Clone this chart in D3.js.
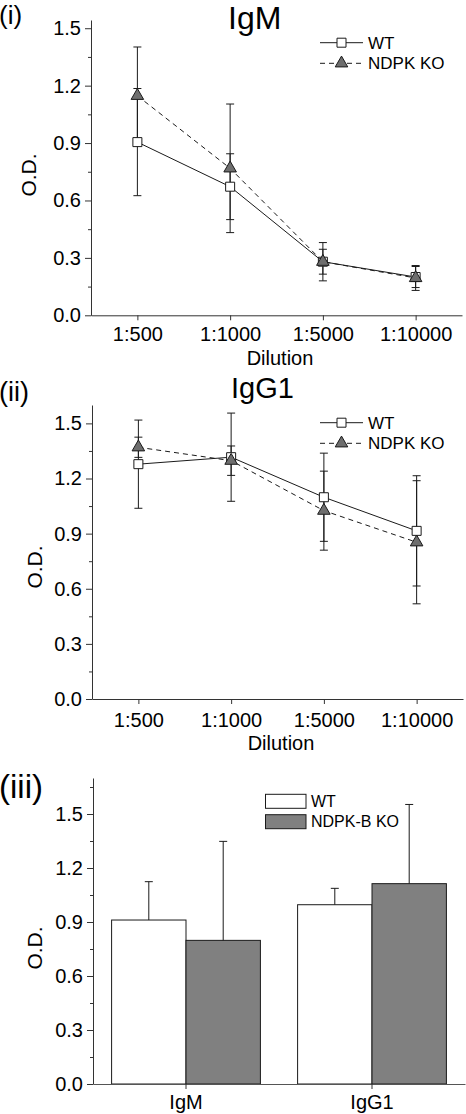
<!DOCTYPE html>
<html>
<head>
<meta charset="utf-8">
<script src="https://cdn.jsdelivr.net/npm/d3@7"></script>
<style>
  html, body { margin: 0; padding: 0; background: #fff; }
  svg { display: block; font-family: "Liberation Sans", Arial, sans-serif; }
</style>
</head>
<body>
<svg id="chart" width="466" height="1114"></svg>
<script>
// ---------- data ----------
const dilutions = ["1:500", "1:1000", "1:5000", "1:10000"];

const igmWT     = [0.905, 0.672, 0.280, 0.200];
const igmWTErr  = [0.280, 0.172, 0.065, 0.055];
const igmKO     = [1.147, 0.768, 0.280, 0.195];
const igmKOErr  = [0.255, 0.336, 0.100, 0.065];

const igg1WT    = [1.278, 1.316, 1.098, 0.915];
const igg1WTErr = [0.240, 0.240, 0.240, 0.300];
const igg1KO    = [1.370, 1.297, 1.025, 0.853];
const igg1KOErr = [0.055, 0.080, 0.215, 0.335];

const barCategories = ["IgM", "IgG1"];
const barSeries = ["WT", "NDPK-B KO"];
const barWT     = [0.911, 0.996];
const barWTErr  = [0.213, 0.091];
const barKO     = [0.798, 1.113];
const barKOErr  = [0.550, 0.440];

const yMajorTicks = [0, 0.3, 0.6, 0.9, 1.2, 1.5];
const yMinorTicks = [0.15, 0.45, 0.75, 1.05, 1.35, 1.65];

const lineLegend = ["WT", "NDPK KO"];

// ---------- helpers ----------
const svg = d3.select("#chart");
const fmt = d3.format(".1f");
const INK = "#1a1a1a";
const AXIS = "#333";

function yAxes(g, y, x0) {
  const [lo, hi] = y.domain();
  const ax = g.append("g").attr("transform", `translate(${x0},0)`)
    .call(d3.axisLeft(y).tickValues(yMajorTicks).tickFormat(fmt).tickSize(6).tickPadding(4).tickSizeOuter(0));
  ax.select(".domain").attr("stroke", AXIS);
  ax.selectAll(".tick line").attr("stroke", AXIS);
  ax.selectAll(".tick text").attr("fill", "#000").style("font-size", "20px");
  const mi = g.append("g").attr("transform", `translate(${x0},0)`)
    .call(d3.axisLeft(y).tickValues(yMinorTicks.filter(v => v < hi)).tickFormat("").tickSize(3).tickSizeOuter(0));
  mi.select(".domain").remove();
  mi.selectAll(".tick line").attr("stroke", AXIS);
}

function linePanel(cfg) {
  const g = svg.append("g");
  const x = d3.scalePoint().domain(dilutions).range([cfg.xl, cfg.xr]).padding(0.5);
  const y = d3.scaleLinear().domain([0, cfg.ymax]).range([cfg.y0, cfg.ytop]);

  // axes
  const xa = g.append("g").attr("transform", `translate(0,${cfg.y0})`)
    .call(d3.axisBottom(x).tickSize(5).tickPadding(cfg.xPad).tickSizeOuter(0));
  xa.select(".domain").attr("stroke", AXIS);
  xa.selectAll(".tick line").attr("stroke", AXIS);
  xa.selectAll(".tick text").attr("fill", "#000").style("font-size", "20px");
  yAxes(g, y, cfg.xl);

  // labels
  g.append("text").attr("x", cfg.xl + 189).attr("y", cfg.dilY).attr("text-anchor", "middle")
    .style("font-size", "20px").text("Dilution");
  g.append("text").attr("transform", `translate(${cfg.odX},${cfg.odY}) rotate(-90)`)
    .attr("text-anchor", "middle").style("font-size", "21px").text("O.D.");
  g.append("text").attr("x", cfg.titleX).attr("y", cfg.titleY)
    .style("font-size", cfg.titleSize + "px").text(cfg.title);
  g.append("text").attr("x", -1).attr("y", cfg.tagY)
    .style("font-size", cfg.tagSize + "px").text(cfg.tag);

  const series = [
    { vals: cfg.wt, errs: cfg.wtErr, dash: null, sym: d3.symbolSquare, size: 81, fill: "#fff" },
    { vals: cfg.ko, errs: cfg.koErr, dash: "5,4", sym: d3.symbolTriangle, size: 68, fill: "#6e6e6e" }
  ];

  // error bars
  series.forEach(s => {
    const eb = g.append("g").attr("stroke", INK).attr("stroke-width", 1);
    s.vals.forEach((v, i) => {
      const cx = x(dilutions[i]);
      const top = y(v + s.errs[i]), bot = y(v - s.errs[i]);
      eb.append("line").attr("x1", cx).attr("x2", cx).attr("y1", top).attr("y2", bot);
      eb.append("line").attr("x1", cx - 4).attr("x2", cx + 4).attr("y1", top).attr("y2", top);
      eb.append("line").attr("x1", cx - 4).attr("x2", cx + 4).attr("y1", bot).attr("y2", bot);
    });
  });

  // lines + markers
  series.forEach(s => {
    const line = d3.line().x((d, i) => x(dilutions[i])).y(d => y(d));
    g.append("path").datum(s.vals).attr("d", line).attr("fill", "none")
      .attr("stroke", INK).attr("stroke-width", 1).attr("stroke-dasharray", s.dash);
    g.selectAll(null).data(s.vals).enter().append("path")
      .attr("d", d3.symbol().type(s.sym).size(s.size))
      .attr("transform", (d, i) => `translate(${x(dilutions[i])},${y(d)})`)
      .attr("fill", s.fill).attr("stroke", INK).attr("stroke-width", 1);
  });

  // legend
  series.forEach((s, k) => {
    const ly = cfg.legY + k * 20.6;
    g.append("line").attr("x1", 320).attr("x2", 363).attr("y1", ly).attr("y2", ly)
      .attr("stroke", INK).attr("stroke-width", 1).attr("stroke-dasharray", s.dash);
    g.append("path").attr("d", d3.symbol().type(s.sym).size(s.size))
      .attr("transform", `translate(341.5,${ly})`).attr("fill", s.fill).attr("stroke", INK);
    g.append("text").attr("x", 368).attr("y", ly).attr("dy", "0.35em")
      .style("font-size", "17px").text(lineLegend[k]);
  });
}

// ---------- panel (i) IgM ----------
linePanel({
  xl: 91, xr: 462, y0: 315.3, ytop: 20, ymax: 1.543, xPad: 7,
  dilY: 365, odX: 36, odY: 175,
  title: "IgM", titleX: 228, titleY: 29, titleSize: 32,
  tag: "(i)", tagY: 24, tagSize: 26,
  wt: igmWT, wtErr: igmWTErr, ko: igmKO, koErr: igmKOErr, legY: 42.7
});

// ---------- panel (ii) IgG1 ----------
linePanel({
  xl: 92, xr: 463, y0: 699, ytop: 405, ymax: 1.6, xPad: 8.5,
  dilY: 750, odX: 42, odY: 567,
  title: "IgG1", titleX: 231, titleY: 398, titleSize: 29,
  tag: "(ii)", tagY: 401, tagSize: 27,
  wt: igg1WT, wtErr: igg1WTErr, ko: igg1KO, koErr: igg1KOErr, legY: 422.7
});

// ---------- panel (iii) bars ----------
(function () {
  const g = svg.append("g");
  const xl = 93, xr = 465, y0 = 1084, ytop = 778;
  const x = d3.scaleBand().domain(barCategories).range([xl, xr]).paddingInner(0.2).paddingOuter(0.1);
  const x1 = d3.scaleBand().domain(barSeries).range([0, x.bandwidth()]);
  const y = d3.scaleLinear().domain([0, 1.7]).range([y0, ytop]);
  const fills = ["#ffffff", "#808080"];
  const vals = [barWT, barKO], errs = [barWTErr, barKOErr];

  barSeries.forEach((s, k) => {
    barCategories.forEach((c, i) => {
      const bx = x(c) + x1(s), v = vals[k][i];
      g.append("rect").attr("x", bx).attr("y", y(v)).attr("width", x1.bandwidth())
        .attr("height", y0 - y(v)).attr("fill", fills[k]).attr("stroke", INK).attr("stroke-width", 1);
      const cx = bx + x1.bandwidth() / 2, top = y(v + errs[k][i]);
      g.append("line").attr("x1", cx).attr("x2", cx).attr("y1", y(v)).attr("y2", top)
        .attr("stroke", INK);
      g.append("line").attr("x1", cx - 4).attr("x2", cx + 4).attr("y1", top).attr("y2", top)
        .attr("stroke", INK);
    });
  });

  const xa = g.append("g").attr("transform", `translate(0,${y0})`)
    .call(d3.axisBottom(x).tickSize(5).tickPadding(6).tickSizeOuter(0));
  xa.select(".domain").attr("stroke", "#555");
  xa.selectAll(".tick line").attr("stroke", AXIS);
  xa.selectAll(".tick text").attr("fill", "#000").style("font-size", "20px");
  yAxes(g, y, xl);

  g.append("text").attr("transform", `translate(42,948) rotate(-90)`)
    .attr("text-anchor", "middle").style("font-size", "21px").text("O.D.");
  g.append("text").attr("x", -1).attr("y", 798).style("font-size", "33px").text("(iii)");

  // legend
  barSeries.forEach((s, k) => {
    const ly = 794.3 + k * 20.4;
    g.append("rect").attr("x", 265.5).attr("y", ly).attr("width", 40.5).attr("height", 14)
      .attr("fill", fills[k]).attr("stroke", INK);
    g.append("text").attr("x", 311).attr("y", ly + 7).attr("dy", "0.35em")
      .style("font-size", "16px").text(s);
  });
})();
</script>
</body>
</html>
